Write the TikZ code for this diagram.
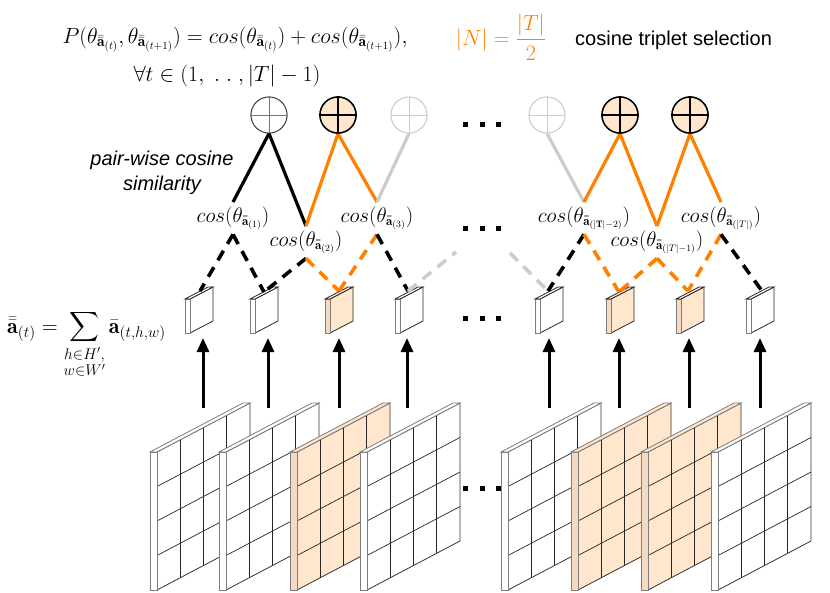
\RequirePackage{fix-cm}
\documentclass[tikz,border=0pt]{standalone}
\usepackage{amsmath}
\usepackage{fontspec}
\setsansfont{Liberation Sans}
\usetikzlibrary{arrows.meta}
\DeclareMathSizes{22}{22}{15.5}{11}
\DeclareMathSizes{21}{21}{13}{9.5}
\definecolor{selorange}{RGB}{255,128,0}
\definecolor{peach}{RGB}{255,230,204}
\definecolor{peachdark}{RGB}{244,218,192}
\definecolor{ghost}{RGB}{204,204,204}
\definecolor{edgegray}{RGB}{125,125,125}
\newcommand{\dbara}{\bar{\bar{\mathbf{a}}}}
\newcommand{\featmap}[3]{%
  \fill[#2] ({#1+7},452) -- ({#1+100},403) -- ({#1+100},541) -- ({#1+7},590) -- cycle;
  \foreach \k in {1,2,3} \draw[gridline] ({#1+7+23.25*\k},{452-12.25*\k}) -- ++(0,138);
  \foreach \j in {1,2,3} \draw[gridline] ({#1+7},{452+34.5*\j}) -- ++(93,-49);
  \draw[gridedge] ({#1+7},452) -- ({#1+100},403) -- ({#1+100},541) -- ({#1+7},590) -- cycle;
  \filldraw[fill=#3, draw=edgegray, line width=0.8pt] (#1,452) rectangle ({#1+7},590);
  \filldraw[fill=#2, draw=edgegray, line width=0.8pt] (#1,452) -- ({#1+7},452) -- ({#1+100},403) -- ({#1+93},403) -- cycle;
}
\newcommand{\smallcube}[3]{%
  \filldraw[fill=#2, draw=black!85, line width=0.8pt] ({#1+5},299) -- ({#1+28},287) -- ({#1+28},321) -- ({#1+5},333) -- cycle;
  \filldraw[fill=#3, draw=edgegray, line width=0.8pt] (#1,299) rectangle ({#1+5},333);
  \filldraw[fill=#2, draw=black!85, line width=0.8pt] (#1,299) -- ({#1+5},299) -- ({#1+28},287) -- ({#1+23},287) -- cycle;
}
\newcommand{\sumcross}[2]{\draw[#2] (#1.north) -- (#1.south) (#1.west) -- (#1.east);}
\tikzset{
  mathfont/.style={font=\fontsize{22}{26}\selectfont},
  gridline/.style={black!85, line width=0.7pt},
  gridedge/.style={black!80, line width=0.8pt},
  sumnode/.style={circle, minimum size=36pt, inner sep=0pt},
  plainsum/.style={sumnode, draw=black!75, line width=0.9pt, fill=white},
  selsum/.style={sumnode, draw=black, line width=1.4pt, fill=peach},
  ghostsum/.style={sumnode, draw=ghost, line width=0.9pt, fill=white},
  cosl/.style={font=\fontsize{21}{24}\selectfont, inner xsep=0pt, inner ysep=4pt},
  solidline/.style={line width=3.2pt},
  dashline/.style={line width=3.6pt, dash pattern=on 11pt off 8pt},
  upflow/.style={line width=3pt, -{Triangle[length=14pt,width=12pt]}},
}
\begin{document}
\begin{tikzpicture}[x=1pt,y=-1pt]
\useasboundingbox (0,0) rectangle (830,592);
\fill[white] (0,0) rectangle (830,592);

% formulas
\node[mathfont, anchor=base, inner sep=0pt] (f1) at (235,43) {$P(\theta_{\dbara_{(t)}},\theta_{\dbara_{(t+1)}}) = cos(\theta_{\dbara_{(t)}}) + cos(\theta_{\dbara_{(t+1)}}),$};
\node[mathfont, anchor=base, inner sep=0pt] (f2) at (227,81) {$\forall t \in (1,\;.\;.\;,|T|-1)$};
\node[mathfont, anchor=base, inner sep=0pt, text=selorange] (nf) at (501,45) {$|N| = \dfrac{|T|}{2}$};
\node[font=\sffamily\fontsize{20}{24}\selectfont, anchor=base west, inner sep=0pt] (ts) at (575,45) {cosine triplet selection};
\node[font=\sffamily\itshape\fontsize{20}{24}\selectfont, anchor=base, inner sep=0pt] (pw1) at (162,165) {pair-wise cosine};
\node[font=\sffamily\itshape\fontsize{20}{24}\selectfont, anchor=base, inner sep=0pt] (pw2) at (162,190) {similarity};
\node[mathfont, anchor=base west, inner sep=0pt] (fa) at (7,333) {$\displaystyle \dbara_{(t)} = \sum_{\substack{h\in H',\\ w\in W'}} \bar{\mathbf{a}}_{(t,h,w)}$};

% feature maps
\featmap{150}{white}{white}
\featmap{219}{white}{white}
\featmap{290}{peach}{peachdark}
\featmap{360}{white}{white}
\featmap{501}{white}{white}
\featmap{571}{peach}{peachdark}
\featmap{641}{peach}{peachdark}
\featmap{711}{white}{white}

% small cubes
\smallcube{185}{white}{white}
\smallcube{250}{white}{white}
\smallcube{325}{peach}{peachdark}
\smallcube{395}{white}{white}
\smallcube{535}{white}{white}
\smallcube{606}{peach}{peachdark}
\smallcube{676}{peach}{peachdark}
\smallcube{746}{white}{white}

% arrows
\foreach \i/\x in {1/203,2/268,3/339,4/407,5/549,6/619,7/689,8/760}{
  \coordinate (b\i) at (\x,408);
  \coordinate (t\i) at (\x,338);
  \draw[upflow] (b\i) -- (t\i);
}

% cube top points
\coordinate (k1) at (200,291);
\coordinate (k2) at (264,292);
\coordinate (k3) at (339,291);
\coordinate (k4) at (408,291);
\coordinate (k5) at (548,291);
\coordinate (k6) at (619,292);
\coordinate (k7) at (688,291);
\coordinate (k8) at (762,291);
\coordinate (g1) at (456,252);
\coordinate (g2) at (510,253);

% cos labels
\node[cosl, anchor=base] (l1) at (233,222) {$cos(\theta_{\dbara_{(1)}})$};
\node[cosl, anchor=base] (l2) at (306,246) {$cos(\theta_{\dbara_{(2)}})$};
\node[cosl, anchor=base] (l3) at (377,222) {$cos(\theta_{\dbara_{(3)}})$};
\node[cosl, anchor=base] (lA) at (584,222) {$cos(\theta_{\dbara_{(|\mathbf{T}|-2)}})$};
\node[cosl, anchor=base] (lB) at (657,246) {$cos(\theta_{\dbara_{(|T|-1)}})$};
\node[cosl, anchor=base] (lC) at (721,222) {$cos(\theta_{\dbara_{(|T|)}})$};

% sum circles
\node[plainsum] (c1) at (269,115) {};
\node[selsum] (c2) at (338,115) {};
\node[ghostsum] (c3) at (409,115) {};
\node[ghostsum] (c4) at (547,115) {};
\node[selsum] (c5) at (620,115) {};
\node[selsum] (c6) at (690,115) {};

% solid connectors
\draw[solidline, black] (c1.south) -- (l1.north);
\draw[solidline, black] (c1.south) -- (l2.north);
\draw[solidline, selorange] (c2.south) -- (l2.north);
\draw[solidline, selorange] (c2.south) -- (l3.north);
\draw[solidline, ghost] (c3.south) -- (l3.north);
\draw[solidline, ghost] (c4.south) -- (lA.north);
\draw[solidline, selorange] (c5.south) -- (lA.north);
\draw[solidline, selorange] (c5.south) -- (lB.north);
\draw[solidline, selorange] (c6.south) -- (lB.north);
\draw[solidline, selorange] (c6.south) -- (lC.north);

% redraw circles on top
\node[plainsum] at (c1) {};
\node[selsum] at (c2) {};
\node[ghostsum] at (c3) {};
\node[ghostsum] at (c4) {};
\node[selsum] at (c5) {};
\node[selsum] at (c6) {};
\sumcross{c1}{black!55, line width=0.9pt}
\sumcross{c2}{black, line width=1.4pt}
\sumcross{c3}{ghost, line width=0.9pt}
\sumcross{c4}{ghost, line width=0.9pt}
\sumcross{c5}{black, line width=1.4pt}
\sumcross{c6}{black, line width=1.4pt}

% dashed connectors
\draw[dashline, black] (l1.south) -- (k1);
\draw[dashline, black] (l1.south) -- (k2);
\draw[dashline, black] (l2.south) -- (k2);
\draw[dashline, selorange] (l2.south) -- (k3);
\draw[dashline, selorange] (l3.south) -- (k3);
\draw[dashline, black] (l3.south) -- (k4);
\draw[dashline, ghost] (k4) -- (g1);
\draw[dashline, ghost] (g2) -- (k5);
\draw[dashline, black] (lA.south) -- (k5);
\draw[dashline, selorange] (lA.south) -- (k6);
\draw[dashline, selorange] (lB.south) -- (k6);
\draw[dashline, selorange] (lB.south) -- (k7);
\draw[dashline, selorange] (lC.south) -- (k7);
\draw[dashline, black] (lC.south) -- (k8);

% ellipsis dots
\foreach \y in {124,228,318,488}{
  \foreach \x in {465,482,498}{
    \fill[black] ({\x-2.5},{\y-2.5}) rectangle ++(5,5);
  }
}
\end{tikzpicture}
\end{document}
